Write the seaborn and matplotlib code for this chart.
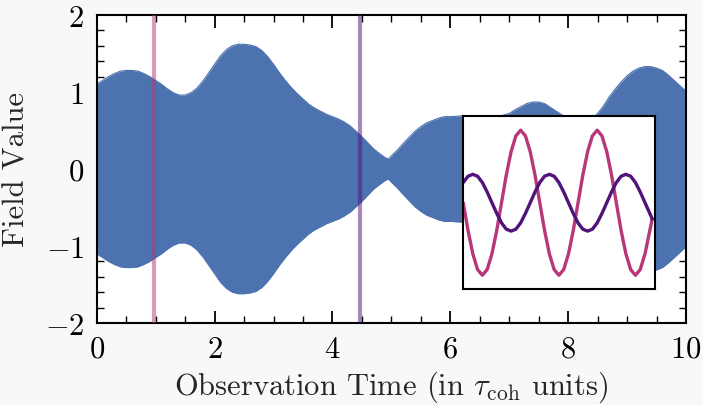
import numpy as np
import pandas as pd
import matplotlib
matplotlib.use("Agg")
import matplotlib.pyplot as plt
import seaborn as sns

# ---------------- data ----------------
time_pts = [0.0, 0.1, 0.2, 0.3, 0.4, 0.5, 0.6, 0.7, 0.8, 0.9,
            1.0, 1.1, 1.2, 1.3, 1.4, 1.5, 1.6, 1.7, 1.8, 1.9,
            2.0, 2.1, 2.2, 2.3, 2.4, 2.5, 2.6, 2.7, 2.8, 2.9,
            3.0, 3.1, 3.2, 3.3, 3.4, 3.5, 3.6, 3.7, 3.8, 3.9,
            4.0, 4.1, 4.2, 4.3, 4.4, 4.5, 4.6, 4.7, 4.8, 4.9,
            4.95, 5.0, 5.1, 5.2, 5.3, 5.4, 5.5, 5.6, 5.7, 5.8,
            5.9, 6.0, 6.2, 6.4, 6.6, 6.8, 7.0, 7.1, 7.2, 7.3,
            7.4, 7.5, 7.6, 7.7, 7.8, 7.9, 8.0, 8.2, 8.4, 8.5,
            8.6, 8.7, 8.8, 8.9, 9.0, 9.1, 9.2, 9.3, 9.4, 9.5,
            9.6, 9.7, 9.8, 9.9, 10.0]
envelope = [1.10, 1.15, 1.20, 1.24, 1.27, 1.28, 1.28, 1.27, 1.24, 1.20,
            1.15, 1.10, 1.04, 0.99, 0.96, 0.96, 0.99, 1.05, 1.14, 1.25,
            1.36, 1.47, 1.55, 1.60, 1.62, 1.62, 1.61, 1.59, 1.54, 1.46,
            1.36, 1.25, 1.15, 1.06, 0.98, 0.91, 0.84, 0.79, 0.75, 0.71,
            0.68, 0.65, 0.61, 0.56, 0.49, 0.42, 0.34, 0.26, 0.20, 0.145,
            0.13, 0.17, 0.245, 0.33, 0.41, 0.49, 0.55, 0.60, 0.63, 0.66,
            0.68, 0.68, 0.69, 0.68, 0.67, 0.68, 0.72, 0.77, 0.81, 0.85,
            0.87, 0.87, 0.85, 0.80, 0.75, 0.70, 0.66, 0.62, 0.65, 0.72,
            0.82, 0.94, 1.04, 1.13, 1.21, 1.27, 1.31, 1.33, 1.33, 1.31,
            1.28, 1.22, 1.15, 1.08, 1.01]

snapshot_times = [0.97, 4.46]

# inset: field oscillation (in carrier periods) at the two marked times
inset_phase = [0.0, 0.0625, 0.125, 0.1875, 0.25, 0.3125, 0.375, 0.4375,
               0.5, 0.5625, 0.625, 0.6875, 0.75, 0.8125, 0.875, 0.9375,
               1.0, 1.0625, 1.125, 1.1875, 1.25, 1.3125, 1.375, 1.4375,
               1.5, 1.5625, 1.625, 1.6875, 1.75, 1.8125, 1.875, 1.9375,
               2.0, 2.0625, 2.125, 2.1875, 2.25, 2.3125, 2.375, 2.4375, 2.47]
field_early = [0.0, -0.44, -0.81, -1.06, -1.15, -1.06, -0.81, -0.44,
               0.0, 0.44, 0.81, 1.06, 1.15, 1.06, 0.81, 0.44,
               0.0, -0.44, -0.81, -1.06, -1.15, -1.06, -0.81, -0.44,
               0.0, 0.44, 0.81, 1.06, 1.15, 1.06, 0.81, 0.44,
               0.0, -0.44, -0.81, -1.06, -1.15, -1.06, -0.81, -0.44, -0.25]
field_late = [0.32, 0.42, 0.45, 0.42, 0.32, 0.17, 0.0, -0.17,
              -0.32, -0.42, -0.45, -0.42, -0.32, -0.17, 0.0, 0.17,
              0.32, 0.42, 0.45, 0.42, 0.32, 0.17, 0.0, -0.17,
              -0.32, -0.42, -0.45, -0.42, -0.32, -0.17, 0.0, 0.17,
              0.32, 0.42, 0.45, 0.42, 0.32, 0.17, 0.0, -0.17, -0.26]

x_ticks = [0, 2, 4, 6, 8, 10]
y_ticks = [-2, -1, 0, 1, 2]

# ---------------- style ----------------
sns.set_theme(style="ticks")
plt.rcParams.update({
    "font.family": "serif",
    "font.serif": ["cmr10"],
    "mathtext.fontset": "cm",
    "axes.formatter.use_mathtext": True,
    "axes.unicode_minus": True,
    "font.size": 22,
})

BLUE = "#4C72B0"
PINK = "#b73779"
PURPLE = "#51127c"
BG = "#f8f8f8"

fig = plt.figure(figsize=(7.03, 4.06), dpi=100, facecolor=BG)
ax = fig.add_axes([0.1376, 0.2020, 0.8382, 0.7586])
ax.set_facecolor("white")

df = pd.DataFrame({"t": time_pts, "env": envelope})
ax.fill_between(df["t"], -df["env"], df["env"], color=BLUE, lw=0, zorder=2)
sns.lineplot(x=df["t"], y=df["env"], ax=ax, color=BLUE, lw=0.8, zorder=2)
sns.lineplot(x=df["t"], y=-df["env"], ax=ax, color=BLUE, lw=0.8, zorder=2)

ax.axvline(snapshot_times[0], color=PINK, alpha=0.5, lw=3.0, zorder=3)
ax.axvline(snapshot_times[1], color=PURPLE, alpha=0.5, lw=3.0, zorder=3)

ax.set_xlim(0, 10)
ax.set_ylim(-2, 2)
ax.set_xticks(x_ticks)
ax.set_yticks(y_ticks)
ax.xaxis.set_minor_locator(matplotlib.ticker.MultipleLocator(0.5))
ax.yaxis.set_minor_locator(matplotlib.ticker.MultipleLocator(0.2))
ax.tick_params(which="both", direction="in", top=True, right=True,
               colors="black", labelsize=22)
ax.tick_params(which="major", length=9, width=1.3, pad=9)
ax.tick_params(which="minor", length=5, width=1.0)
for s in ax.spines.values():
    s.set_linewidth(1.5)
    s.set_color("black")

ax.set_xlabel(r"Observation Time (in $\tau_{\rm coh}$ units)", fontsize=22, labelpad=4)
ax.set_ylabel("Field Value", fontsize=22, labelpad=10)

# inset
axins = ax.inset_axes([0.622, 0.110, 0.326, 0.561])
axins.set_facecolor("white")
idf = pd.DataFrame({"p": inset_phase, "early": field_early, "late": field_late})
sns.lineplot(data=idf, x="p", y="early", ax=axins, color=PINK, lw=2.4)
sns.lineplot(data=idf, x="p", y="late", ax=axins, color=PURPLE, lw=2.4)
axins.set_xlim(0, 2.51)
axins.set_ylim(-1.37, 1.37)
axins.set_xticks([])
axins.set_yticks([])
axins.set_xlabel("")
axins.set_ylabel("")
for s in axins.spines.values():
    s.set_linewidth(1.5)
    s.set_color("black")
axins.set_zorder(5)

fig.savefig("out.png", dpi=100, facecolor=BG)
